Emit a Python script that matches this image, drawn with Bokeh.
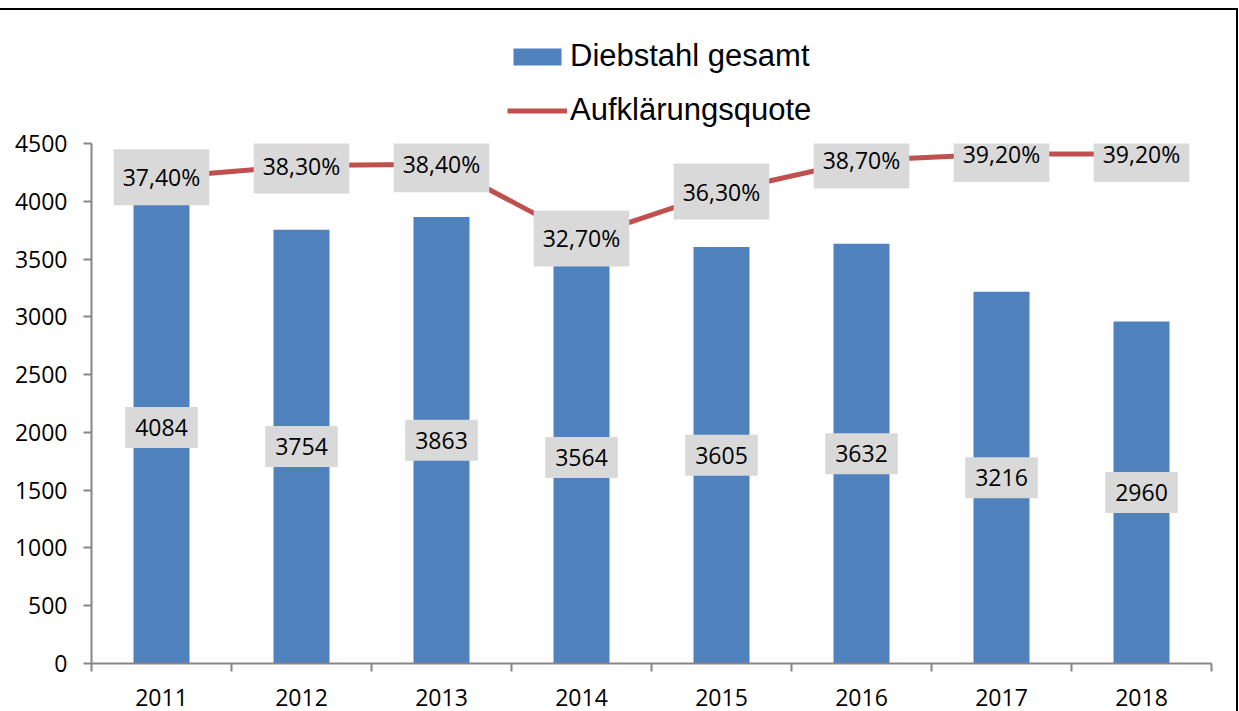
from bokeh.plotting import figure
from bokeh.layouts import column
from bokeh.models import (ColumnDataSource, Range1d, FixedTicker, Legend, LegendItem,
                          CustomJSTickFormatter)
from bokeh.core.properties import value
from bokeh.embed import file_html
from bokeh.resources import INLINE

years = ["2011", "2012", "2013", "2014", "2015", "2016", "2017", "2018"]
theft_total = [4084, 3754, 3863, 3564, 3605, 3632, 3216, 2960]
clearance_rate = [37.4, 38.3, 38.4, 32.7, 36.3, 38.7, 39.2, 39.2]
y_ticks = [0, 500, 1000, 1500, 2000, 2500, 3000, 3500, 4000, 4500]
series_names = ["Diebstahl gesamt", "Aufklärungsquote"]

BAR = "#4f81bd"
LINE = "#c0504d"
AXIS = "#868686"
BOX = "#d9d9d9"
FONT = "Open Sans"
W = 1236

n = len(years)
xs = [i + 0.5 for i in range(n)]
src = ColumnDataSource(dict(
    x=xs,
    total=theft_total,
    half=[v / 2 for v in theft_total],
    total_lbl=[str(v) for v in theft_total],
    rate=clearance_rate,
    rate_lbl=[f"{v:.2f}".replace(".", ",") + "%" for v in clearance_rate],
))

# ---------- legend strip (top) ----------
lg = figure(width=W, height=118, x_range=Range1d(0, n), y_range=Range1d(0, 4500),
            output_backend="svg", toolbar_location=None,
            x_axis_location=None, y_axis_location=None, min_border=0)
lg.xgrid.visible = False
lg.ygrid.visible = False
lg.outline_line_color = None
lg.extra_y_ranges = {"pct": Range1d(0, 40)}
lg_bar = lg.vbar(x="x", top="total", width=0.4, source=src, fill_color=BAR,
                 line_color=None, visible=False)
lg_line = lg.line(x="x", y="rate", source=src, y_range_name="pct", line_color=LINE,
                  line_width=5, visible=False)
legend = Legend(items=[LegendItem(label=series_names[0], renderers=[lg_bar]),
                       LegendItem(label=series_names[1], renderers=[lg_line])],
                location=(416, 0), orientation="vertical",
                label_text_font="Liberation Sans", label_text_font_size="31px",
                label_text_color="black", label_height=34,
                glyph_width=60, glyph_height=21, label_standoff=3, spacing=18,
                inactive_fill_alpha=0,
                padding=0, margin=0, border_line_color=None, background_fill_alpha=0)
lg.add_layout(legend)

# ---------- main chart ----------
p = figure(width=W, height=591, x_range=Range1d(0, n), y_range=Range1d(0, 4500),
           output_backend="svg", toolbar_location=None,
           min_border_left=91, min_border_right=25, min_border_top=15, min_border_bottom=56)
p.extra_y_ranges = {"pct": Range1d(0, 40)}
p.xgrid.visible = False
p.ygrid.visible = False
p.outline_line_color = None

xa = p.xaxis[0]
xa.ticker = FixedTicker(ticks=xs, minor_ticks=list(range(n + 1)))
xa.formatter = CustomJSTickFormatter(args=dict(labels=years),
                                     code="return labels[Math.floor(tick)];")
xa.major_tick_out = 0
xa.major_tick_in = 0
xa.minor_tick_out = 8
xa.minor_tick_in = 0
xa.minor_tick_line_color = AXIS
xa.minor_tick_line_width = 2
xa.axis_line_color = AXIS
xa.axis_line_width = 2
xa.major_label_text_font = FONT
xa.major_label_text_font_size = "23px"
xa.major_label_text_color = "black"
xa.major_label_standoff = 17

ya = p.yaxis[0]
ya.ticker = FixedTicker(ticks=y_ticks)
ya.major_tick_out = 8
ya.major_tick_in = 0
ya.minor_tick_out = 0
ya.minor_tick_in = 0
ya.major_tick_line_color = AXIS
ya.major_tick_line_width = 2
ya.axis_line_color = AXIS
ya.axis_line_width = 2
ya.major_label_text_font = FONT
ya.major_label_text_font_size = "23px"
ya.major_label_text_color = "black"
ya.major_label_standoff = 16

bars = p.vbar(x="x", top="total", width=0.4, source=src, fill_color=BAR, line_color=None)
p.text(x="x", y="half", text="total_lbl", source=src, text_align="center",
       text_baseline="middle", text_font=value(FONT), text_font_size="23px",
       text_color="black", background_fill_color=BOX, padding=(10, 12))

line = p.line(x="x", y="rate", source=src, y_range_name="pct", line_color=LINE,
              line_width=5)
p.text(x="x", y="rate", text="rate_lbl", source=src, y_range_name="pct",
       text_align="center", text_baseline="middle", text_font=value(FONT),
       text_font_size="23px", text_color="black", background_fill_color=BOX,
       padding=(9, 12))

layout = column(lg, p, spacing=0,
                styles={"border-top": "2px solid #000", "border-right": "2px solid #000",
                        "margin-top": "8px"})

open("out.html", "w").write(file_html(layout, INLINE))
